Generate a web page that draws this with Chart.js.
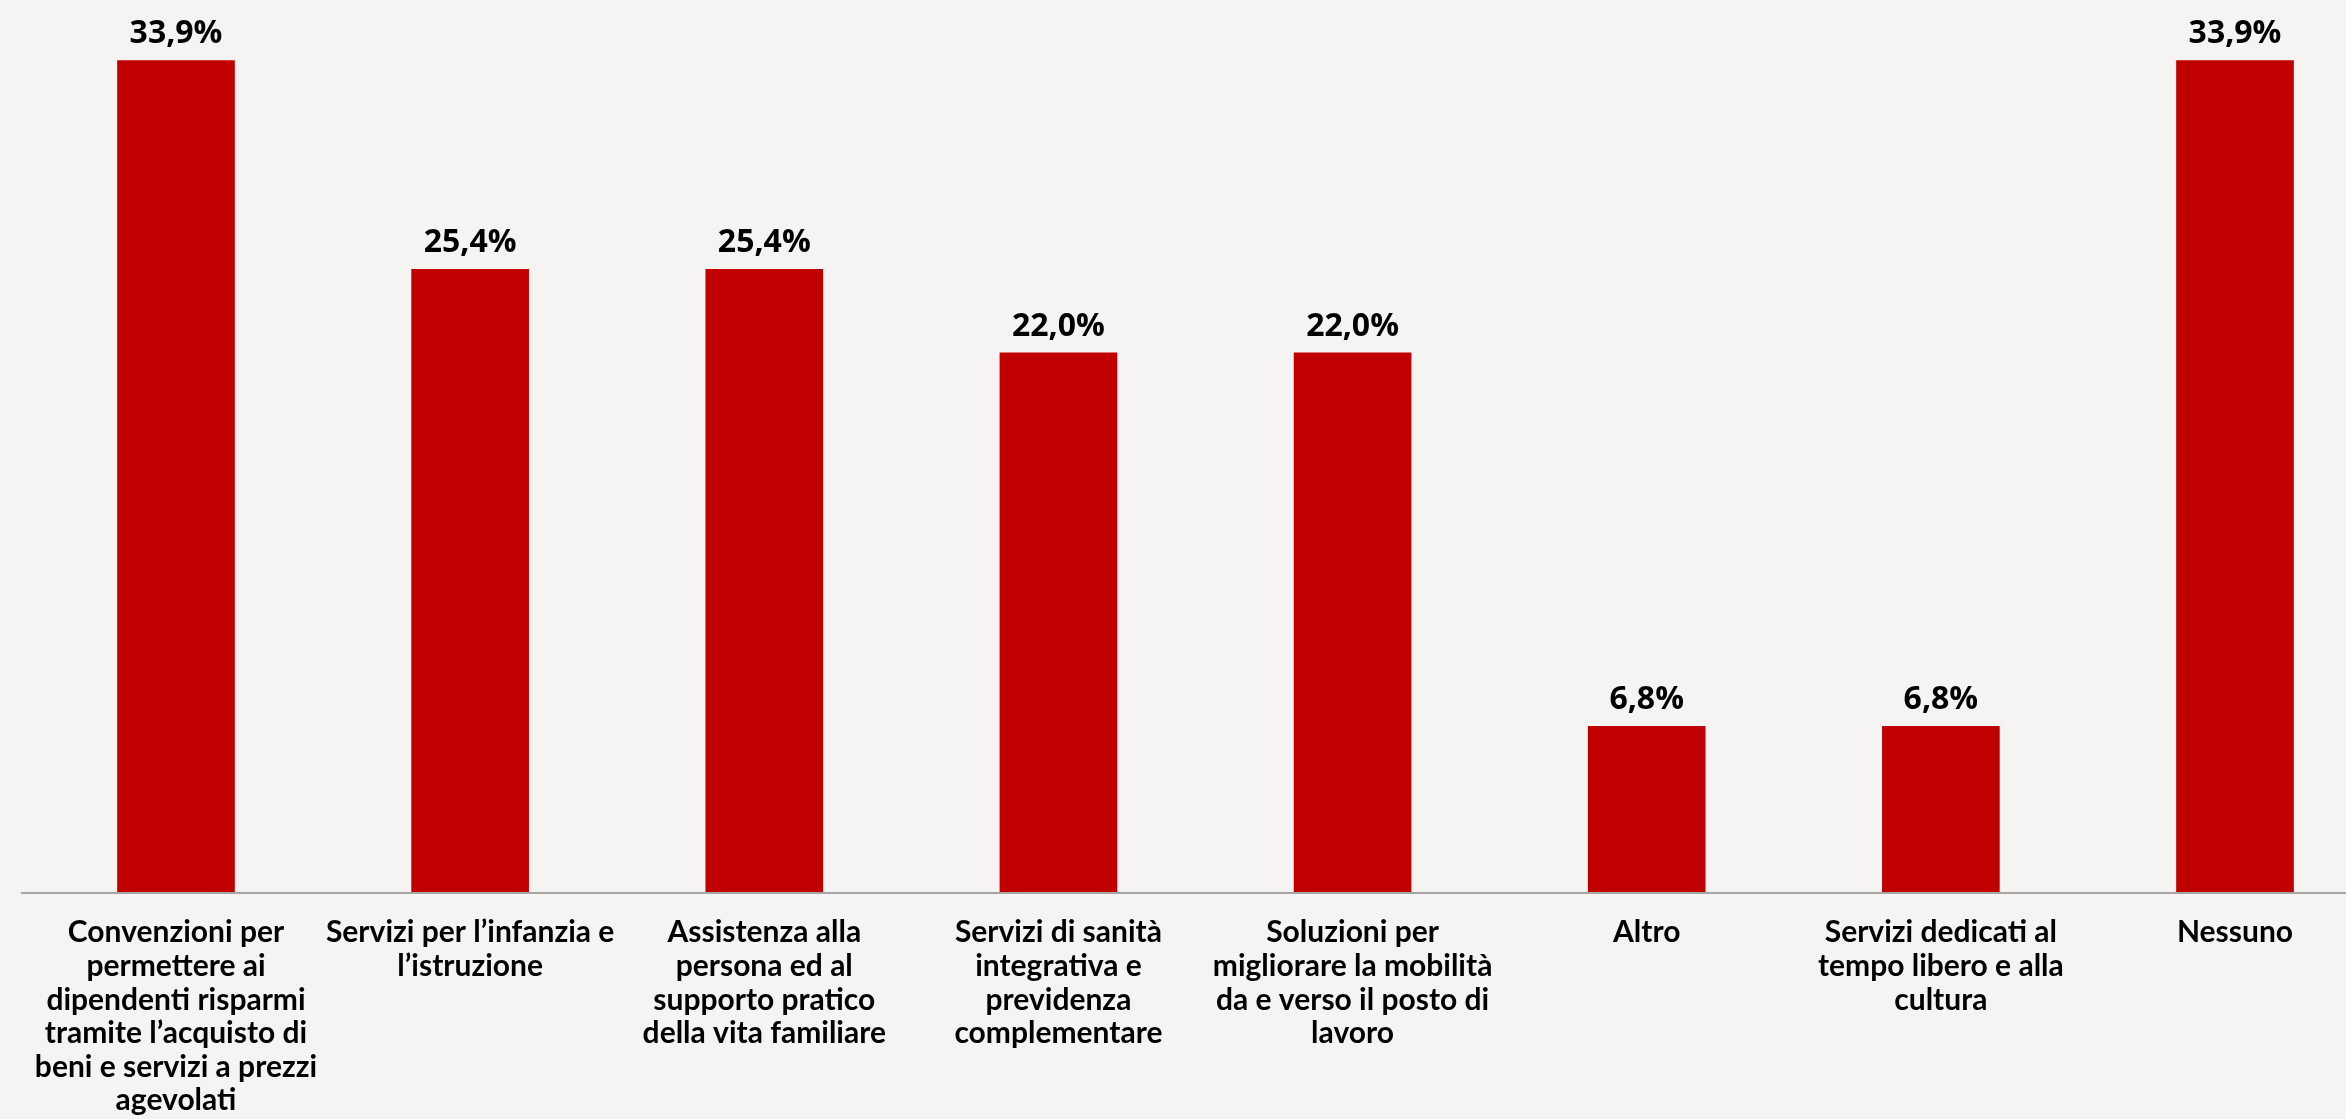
<!DOCTYPE html>
<html lang="it">
<head>
<meta charset="utf-8">
<title>Servizi di welfare</title>
<script src="https://cdn.jsdelivr.net/npm/chart.js@4.4.1/dist/chart.umd.min.js"></script>
<style>
  html, body { margin: 0; padding: 0; background: #f5f4f2; overflow: hidden; }
  #wrap { position: relative; width: 2346px; height: 1119px; }
</style>
</head>
<body>
<div id="wrap"><canvas id="servizi"></canvas></div>
<script>
// categorie (etichette su più righe) e percentuali
var categorie = [
    ['Convenzioni per', 'permettere ai', 'dipendenti risparmi', 'tramite l’acquisto di', 'beni e servizi a prezzi', 'agevolati'],
    ['Servizi per l’infanzia e', 'l’istruzione'],
    ['Assistenza alla', 'persona ed al', 'supporto pratico', 'della vita familiare'],
    ['Servizi di sanità', 'integrativa e', 'previdenza', 'complementare'],
    ['Soluzioni per', 'migliorare la mobilità', 'da e verso il posto di', 'lavoro'],
    ['Altro'],
    ['Servizi dedicati al', 'tempo libero e alla', 'cultura'],
    ['Nessuno']
];
var percentuali = [33.9, 25.4, 25.4, 22.0, 22.0, 6.8, 6.8, 33.9];

var rosso = '#c00000';
var fontCategorie = 'Lato, "Open Sans", sans-serif';
var fontValori = '"Open Sans", Lato, sans-serif';

// scrive il valore sopra ogni barra (formato italiano con la virgola)
var etichetteValori = {
    id: 'etichetteValori',
    afterDatasetsDraw: function (chart) {
        var ctx = chart.ctx;
        var meta = chart.getDatasetMeta(0);
        ctx.save();
        ctx.font = 'bold 32px ' + fontValori;
        ctx.fillStyle = '#000';
        ctx.textAlign = 'center';
        ctx.textBaseline = 'alphabetic';
        meta.data.forEach(function (bar, i) {
            var testo = percentuali[i].toFixed(1).replace('.', ',') + '%';
            ctx.fillText(testo, bar.x, bar.y - 17);
        });
        ctx.restore();
    }
};

// linea dell'asse orizzontale, più lunga dell'area del grafico
var lineaAsse = {
    id: 'lineaAsse',
    afterDatasetsDraw: function (chart) {
        var ctx = chart.ctx;
        var y = chart.chartArea.bottom;
        ctx.save();
        ctx.strokeStyle = '#a6a6a6';
        ctx.lineWidth = 2;
        ctx.beginPath();
        ctx.moveTo(21, y);
        ctx.lineTo(chart.width, y);
        ctx.stroke();
        ctx.restore();
    }
};

var ctx = document.getElementById('servizi').getContext('2d');
var grafico = new Chart(ctx, {
    type: 'bar',
    data: {
        labels: categorie,
        datasets: [{
            data: percentuali,
            backgroundColor: rosso,
            borderWidth: 0,
            barPercentage: 0.4,
            categoryPercentage: 1,
            clip: false
        }]
    },
    options: {
        responsive: true,
        maintainAspectRatio: false,
        animation: false,
        layout: {
            padding: { left: 176, right: 111, top: 0, bottom: 0 }
        },
        plugins: {
            legend: { display: false },
            tooltip: { enabled: false }
        },
        scales: {
            x: {
                offset: false,
                grid: { display: false, drawTicks: false },
                border: { display: false },
                ticks: {
                    color: '#000',
                    autoSkip: false,
                    maxRotation: 0,
                    padding: 23,
                    font: { family: fontCategorie, size: 30, weight: 'bold', lineHeight: 1.12 }
                },
                afterFit: function (scale) {
                    scale.height = 226;
                }
            },
            y: {
                display: false,
                min: 0,
                max: 36.35
            }
        }
    },
    plugins: [lineaAsse, etichetteValori]
});
</script>
</body>
</html>
